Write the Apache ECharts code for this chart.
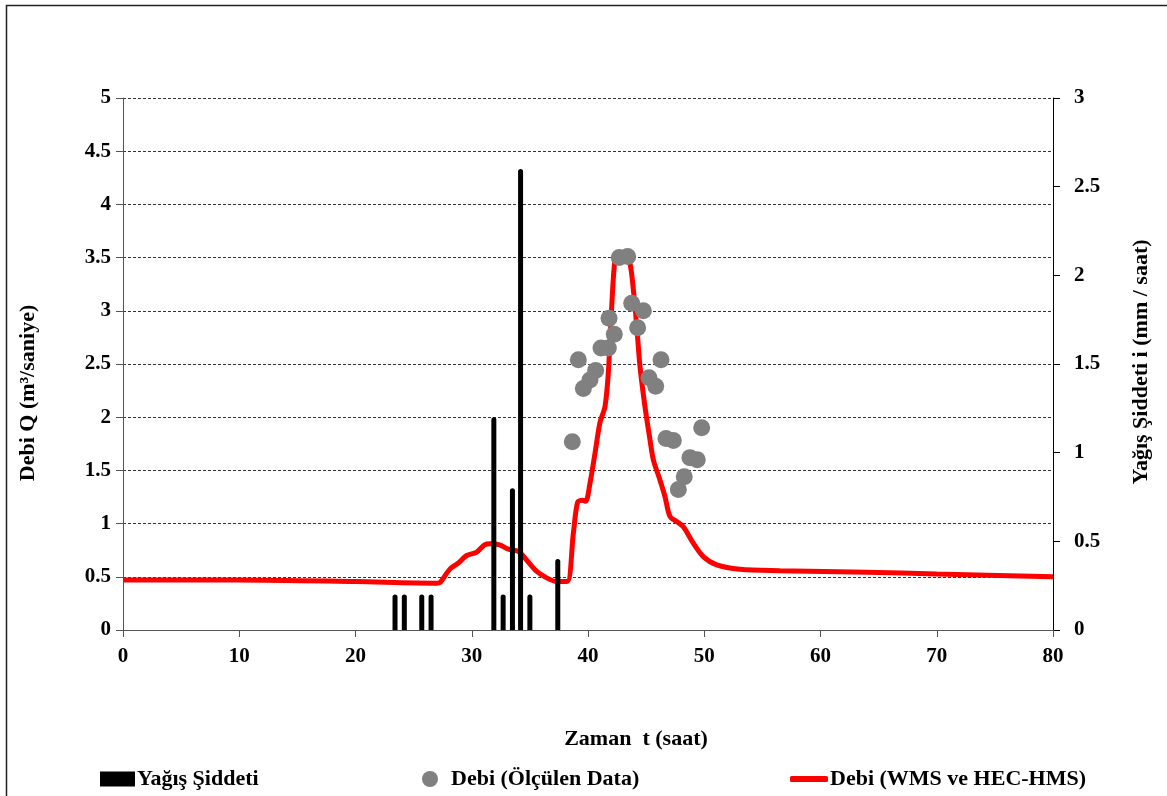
<!DOCTYPE html>
<html>
<head>
<meta charset="utf-8">
<script src="https://cdn.jsdelivr.net/npm/echarts@6/dist/echarts.min.js"></script>
<style>
  html, body { margin: 0; padding: 0; background: #fff; }
  #chart { width: 1167px; height: 796px; }
</style>
</head>
<body>
<div id="chart"></div>
<script>
// yağış şiddeti (mm/saat) - saat
var rainHours = [23.4, 24.2, 25.7, 26.5, 31.9, 32.7, 33.5, 34.2, 35.0, 37.4];
var rainValues = [0.2, 0.2, 0.2, 0.2, 1.2, 0.2, 0.8, 2.6, 0.2, 0.4];

// ölçülen debi
var obsHours = [38.65, 39.17, 39.6, 40.17, 40.66, 41.12, 41.75, 41.81, 42.26, 42.69, 43.41, 43.76,
  44.27, 44.76, 45.25, 45.82, 46.28, 46.71, 47.34, 47.77, 48.28, 48.77, 49.4, 49.78];
var obsQ = [1.77, 2.54, 2.27, 2.35, 2.44, 2.65, 2.65, 2.93, 2.78, 3.5, 3.51, 3.07,
  2.84, 3.0, 2.37, 2.29, 2.54, 1.8, 1.78, 1.32, 1.44, 1.62, 1.6, 1.9];

// model debisi (WMS ve HEC-HMS)
var simHours = [0, 10, 20, 27, 27.3, 28.1, 28.85, 29.56, 30.4, 31.1, 31.6, 32.4, 33.15, 34.0, 34.7,
  35.6, 36.45, 37.3, 38.2, 38.74, 39.1, 39.5, 39.8, 40.17, 40.6, 41.03, 41.46, 41.75, 42.04,
  42.32, 42.6, 43.2, 43.6, 43.9, 44.19, 44.47, 44.9, 45.33, 45.62, 46.19, 46.62, 47.05, 47.63,
  48.2, 49.06, 49.92, 51.07, 53.08, 56.5, 64, 70, 80];
var simQ = [0.47, 0.47, 0.455, 0.44, 0.449, 0.57, 0.63, 0.70, 0.73, 0.80, 0.81, 0.80, 0.76, 0.74, 0.66,
  0.55, 0.49, 0.455, 0.455, 0.91, 1.2, 1.22, 1.21, 1.38, 1.66, 1.95, 2.10, 2.42, 3.04,
  3.48, 3.52, 3.52, 3.45, 3.2, 2.86, 2.48, 2.10, 1.79, 1.6, 1.41, 1.255, 1.067, 1.02,
  0.97, 0.816, 0.69, 0.612, 0.571, 0.558, 0.543, 0.527, 0.50];

function pairs(xs, ys) {
  var out = [];
  for (var i = 0; i < xs.length; i++) out.push([xs[i], ys[i]]);
  return out;
}

var FONT = 'Liberation Serif';
var tick = { fontFamily: FONT, fontWeight: 'bold', color: '#000', fontSize: 21 };
var txt = { fontFamily: FONT, fontWeight: 'bold', color: '#000', fontSize: 22 };
var titleFont = 'bold 22px "Liberation Serif"';

var chart = echarts.init(document.getElementById('chart'), null, { renderer: 'canvas' });
var option = {
  backgroundColor: '#fff',
  animation: false,
  graphic: [{
    type: 'polyline',
    shape: { points: [[6.5, 900], [6.5, 5.5], [1200, 5.5]] },
    style: { stroke: '#222', lineWidth: 1.5, fill: null }
  }, {
    // sol eksen başlığı
    type: 'text', x: 28, y: 393, rotation: Math.PI / 2,
    style: { text: 'Debi Q (m³/saniye)', align: 'center', verticalAlign: 'middle', font: titleFont, fill: '#000' }
  }, {
    // sağ eksen başlığı
    type: 'text', x: 1141, y: 362, rotation: Math.PI / 2,
    style: { text: 'Yağış Şiddeti i (mm / saat)', align: 'center', verticalAlign: 'middle', font: titleFont, fill: '#000' }
  }, {
    // x ekseni başlığı
    type: 'text', x: 636, y: 739,
    style: { text: 'Zaman  t (saat)', align: 'center', verticalAlign: 'middle', font: titleFont, fill: '#000' }
  }],
  grid: { left: 123, right: 114, top: 98, bottom: 166 },
  legend: [{
    left: 95, top: 763, itemWidth: 35, itemHeight: 15, icon: 'rect',
    textStyle: Object.assign({ padding: [0, 0, 0, -3] }, txt), data: ['Yağış Şiddeti']
  }, {
    left: 417, top: 763, itemWidth: 16, itemHeight: 16,
    textStyle: Object.assign({ padding: [0, 0, 0, 8] }, txt), data: ['Debi (Ölçülen Data)']
  }, {
    left: 785, top: 763, itemWidth: 38, itemHeight: 6, icon: 'roundRect',
    textStyle: Object.assign({ padding: [0, 0, 0, -3] }, txt), data: ['Debi (WMS ve HEC-HMS)']
  }],
  xAxis: {
    type: 'value', min: 0, max: 80, interval: 10,
    axisLine: { onZero: false, lineStyle: { color: '#555', width: 1 } },
    axisTick: { show: true, length: 7, inside: false, lineStyle: { color: '#555' } },
    axisLabel: Object.assign({ margin: 16 }, tick),
    splitLine: { show: false }
  },
  yAxis: [{
    type: 'value', min: 0, max: 5, interval: 0.5,
    axisLine: { show: true, lineStyle: { color: '#555', width: 1 } },
    axisTick: { show: true, length: 7, lineStyle: { color: '#555' } },
    axisLabel: Object.assign({ margin: 12 }, tick),
    splitLine: { show: true, lineStyle: { color: '#333', type: [3, 2], width: 1 } }
  }, {
    type: 'value', min: 0, max: 3, interval: 0.5, position: 'right',
    axisLine: { show: true, lineStyle: { color: '#000', width: 1 } },
    axisTick: { show: true, length: 7, lineStyle: { color: '#000' } },
    axisLabel: Object.assign({ margin: 21 }, tick),
    splitLine: { show: false }
  }],
  series: [{
    name: 'Debi (WMS ve HEC-HMS)',
    type: 'line',
    yAxisIndex: 0,
    data: pairs(simHours, simQ),
    smooth: 0.3,
    showSymbol: false,
    symbol: 'none',
    lineStyle: { color: '#ff0000', width: 5 },
    itemStyle: { color: '#ff0000' },
    z: 2
  }, {
    name: 'Yağış Şiddeti',
    type: 'bar',
    yAxisIndex: 1,
    data: pairs(rainHours, rainValues),
    barWidth: 5,
    itemStyle: { color: '#000', borderRadius: [2.5, 2.5, 0, 0] },
    z: 3
  }, {
    name: 'Debi (Ölçülen Data)',
    type: 'scatter',
    yAxisIndex: 0,
    data: pairs(obsHours, obsQ),
    symbolSize: 17,
    itemStyle: { color: '#808080', opacity: 1 },
    z: 4
  }]
};
chart.setOption(option);
</script>
</body>
</html>
